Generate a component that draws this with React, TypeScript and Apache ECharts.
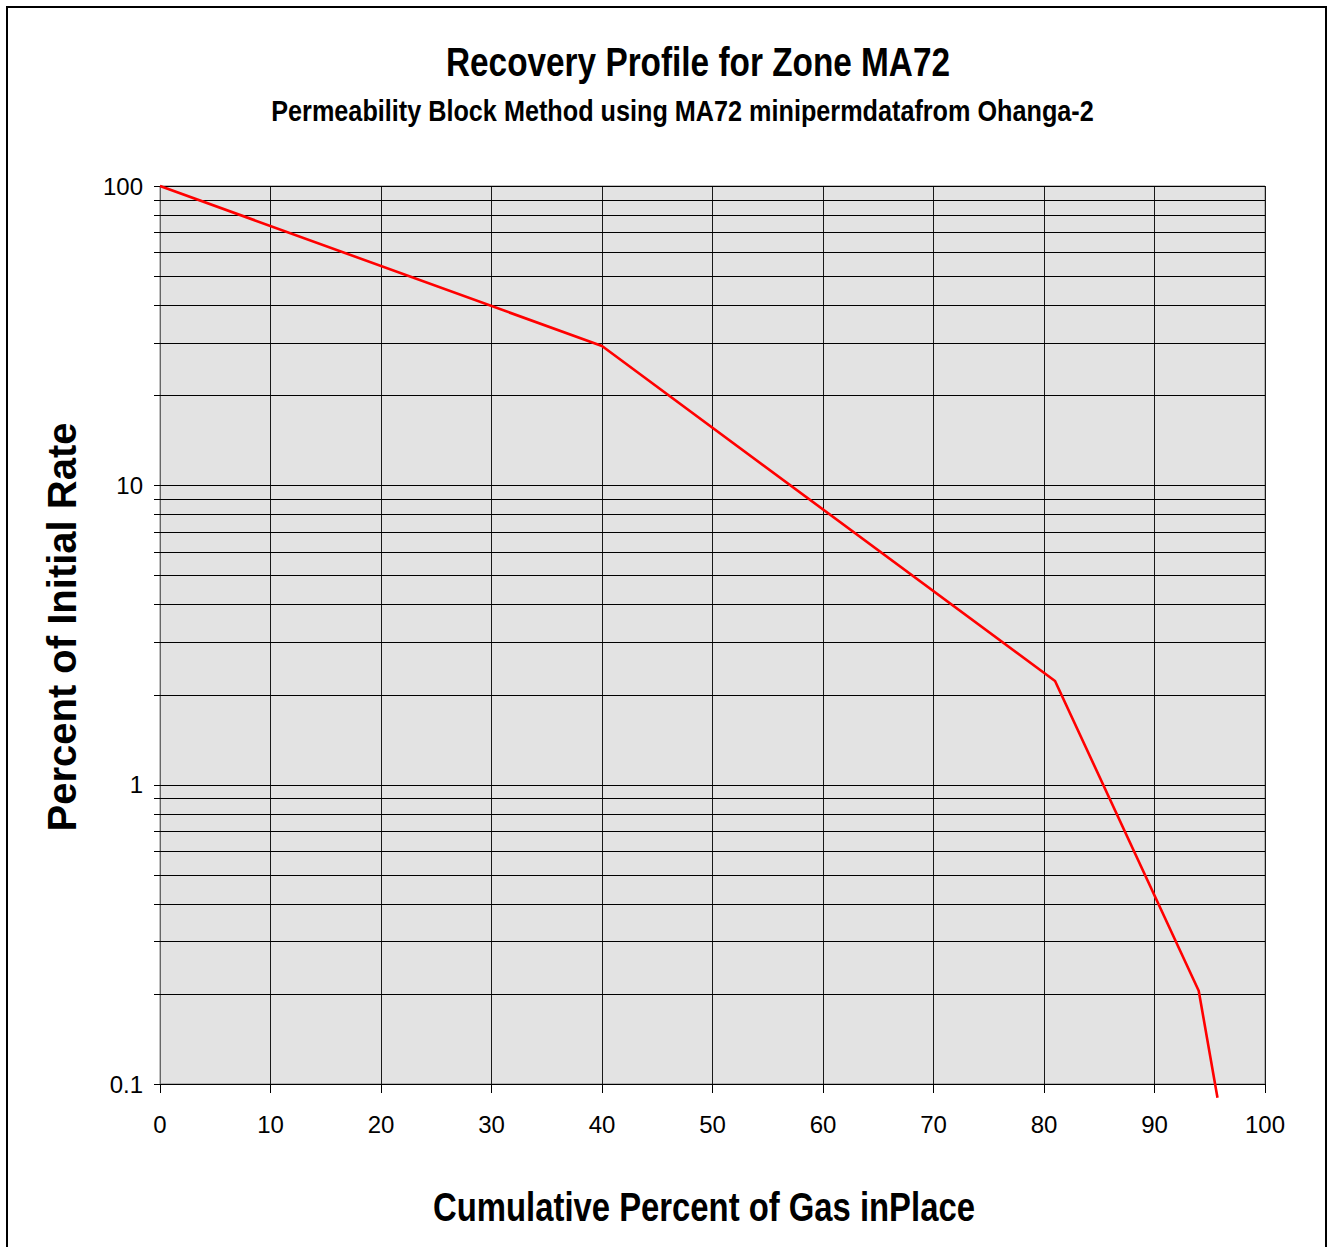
import React, { useEffect, useRef } from "react";
import * as echarts from "echarts";

const titleText = "Recovery Profile for Zone MA72";
const subtitleText = "Permeability Block Method using MA72 minipermdatafrom Ohanga-2";
const xAxisName = "Cumulative Percent of Gas inPlace";
const yAxisName = "Percent of Initial Rate";

const cumulativePercent = [0, 40, 81, 94, 95.7];
const percentInitialRate = [100, 29.2, 2.22, 0.205, 0.09];

const xTicks = [0, 10, 20, 30, 40, 50, 60, 70, 80, 90, 100];
const yDecades = [0.1, 1, 10, 100];
const yMultipliers = [1, 2, 3, 4, 5, 6, 7, 8, 9];

const FONT = "'Liberation Sans', Arial, sans-serif";

function measure(text: string, size: number, weight = "bold") {
  const c = document.createElement("canvas");
  const ctx = c.getContext("2d");
  if (!ctx) return text.length * size * 0.55;
  ctx.font = `${weight} ${size}px 'Liberation Sans', Arial, sans-serif`;
  return ctx.measureText(text).width;
}

export default function App() {
  const ref = useRef<HTMLDivElement>(null);
  useEffect(() => {
    document.body.style.margin = "0";
    if (!ref.current) return;
    const chart = echarts.init(ref.current, undefined, { renderer: "svg" });

    const gridValues: number[] = [];
    yDecades.slice(0, 3).forEach((d) => {
      yMultipliers.forEach((m) => gridValues.push(+(d * m).toPrecision(3)));
    });
    gridValues.push(100);

    const data = cumulativePercent.map((x, i) => [x, percentInitialRate[i]]);

    const squeezed = (text: string, size: number, width: number, cx: number, cy: number) => ({
      type: "text",
      x: cx,
      y: cy,
      scaleX: width / measure(text, size),
      silent: true,
      style: {
        text,
        x: 0,
        y: 0,
        align: "center",
        verticalAlign: "middle",
        fontFamily: FONT,
        fontWeight: "bold",
        fontSize: size,
        fill: "#000",
      },
    });

    chart.setOption({
      animation: false,
      backgroundColor: "#ffffff",
      graphic: [
        {
          type: "rect",
          shape: { x: 7, y: 7, width: 1319, height: 1300 },
          style: { fill: "none", stroke: "#000", lineWidth: 2 },
          silent: true,
        },
        squeezed(titleText, 40, 504, 698, 62),
        squeezed(subtitleText, 30, 823, 682.5, 111),
        squeezed(xAxisName, 40, 542, 704, 1207),
        {
          type: "text",
          x: 62,
          y: 627,
          rotation: Math.PI / 2,
          silent: true,
          style: {
            text: yAxisName,
            x: 0,
            y: 0,
            align: "center",
            verticalAlign: "middle",
            fontFamily: FONT,
            fontWeight: "bold",
            fontSize: 40,
            fill: "#000",
          },
        },
      ],
      grid: {
        left: 160,
        top: 186,
        width: 1105,
        height: 898,
        show: true,
        backgroundColor: "#e3e3e3",
        borderColor: "#808080",
        borderWidth: 1,
      },
      xAxis: {
        type: "value",
        min: 0,
        max: 100,
        interval: 10,
        axisLine: { show: true, lineStyle: { color: "#444", width: 1 } },
        axisTick: { show: true, length: 9, lineStyle: { color: "#000" } },
        axisLabel: {
          margin: 28,
          fontFamily: FONT,
          fontSize: 24,
          color: "#000",
          formatter: (v: number) => (xTicks.includes(v) ? String(v) : ""),
        },
        splitLine: { show: true, lineStyle: { color: "#1a1a1a", width: 1 } },
      },
      yAxis: {
        type: "log",
        logBase: 10,
        min: 0.1,
        max: 100,
        axisLine: { show: true, lineStyle: { color: "#666", width: 1 } },
        axisTick: { show: false },
        axisLabel: {
          margin: 17,
          fontFamily: FONT,
          fontSize: 24,
          color: "#000",
          formatter: (v: number) => {
            const r = +v.toPrecision(3);
            return yDecades.includes(r) ? String(r) : "";
          },
        },
        splitLine: { show: false },
      },
      series: [
        {
          type: "custom",
          z: 1,
          silent: true,
          clip: false,
          data: gridValues.map((v) => [0, v]),
          renderItem: (_params: any, api: any) => {
            const v = api.value(1);
            const p0 = api.coord([0, v]);
            const p1 = api.coord([100, v]);
            const y = Math.round(p0[1]) + 0.5;
            return {
              type: "line",
              shape: { x1: p0[0] - 6, y1: y, x2: p1[0], y2: y },
              style: { stroke: "#000", lineWidth: 1 },
            };
          },
        },
        {
          type: "line",
          data,
          clip: false,
          z: 3,
          symbol: "none",
          lineStyle: { color: "#ff0000", width: 2.6 },
          emphasis: { disabled: true },
        },
      ],
    });
    return () => chart.dispose();
  }, []);
  return <div ref={ref} style={{ width: 1334, height: 1247 }} />;
}
